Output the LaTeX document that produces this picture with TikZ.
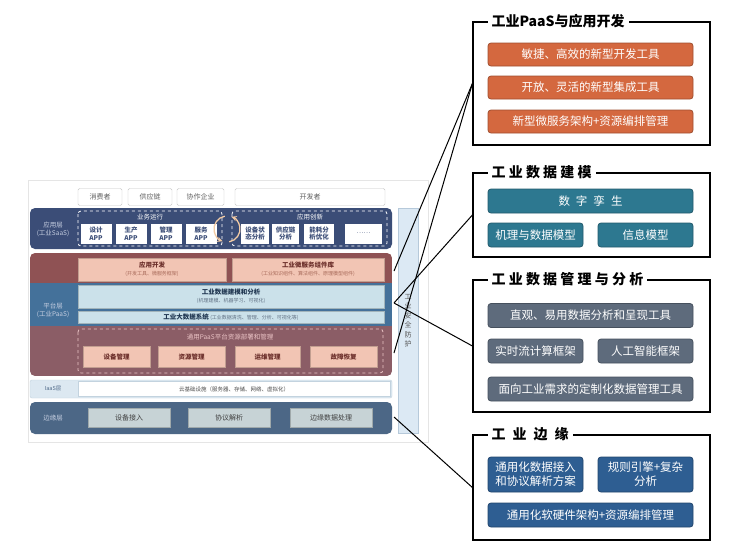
\documentclass[tikz,border=0pt]{standalone}
\usepackage{fontspec}
\setmainfont{Noto Sans CJK SC}
\usetikzlibrary{positioning}
\definecolor{appnavy}{HTML}{3B4D77}
\definecolor{applabel}{HTML}{C8D0E2}
\definecolor{paasred}{HTML}{8F5254}
\definecolor{paasblue}{HTML}{44719A}
\definecolor{paasmauve}{HTML}{8B5D66}
\definecolor{salmon}{HTML}{F2C5B4}
\definecolor{saltext}{HTML}{6B2E2A}
\definecolor{salsub}{HTML}{A86A5A}
\definecolor{lightblue}{HTML}{CBE1EA}
\definecolor{lbtext}{HTML}{1F3550}
\definecolor{dashpink}{HTML}{EBC4C6}
\definecolor{iaasbg}{HTML}{DCE8F1}
\definecolor{iaasline}{HTML}{C3D3DF}
\definecolor{edgeblue}{HTML}{4C6786}
\definecolor{edgegray}{HTML}{C7D3D6}
\definecolor{secblue}{HTML}{DCE9F4}
\definecolor{secline}{HTML}{B6C9DA}
\definecolor{cyccolor}{HTML}{F3CBA5}
\definecolor{orangebox}{HTML}{D4683F}
\definecolor{tealbox}{HTML}{2D7890}
\definecolor{slatebox}{HTML}{5E6B7C}
\definecolor{edgebox}{HTML}{2E5E92}
\newcommand{\subtxt}[1]{{\fontsize{5}{6}\selectfont\mdseries #1}}
\tikzset{
    panel/.style={draw=gray!20, fill=white},
    topbox/.style={draw=gray!45, fill=white, rounded corners=1.5pt, text=gray!75!black, font=\fontsize{7}{8}\selectfont, minimum height=17pt, inner sep=0pt},
    laylabel/.style={align=center, font=\fontsize{6.5}{8}\selectfont},
    dashbox/.style={draw=white, dashed, line width=0.8pt, rounded corners=3pt},
    grptitle/.style={text=white, font=\fontsize{6.5}{7}\selectfont},
    appbox/.style={fill=white, text=appnavy, align=center, font=\fontsize{6.5}{7.5}\selectfont\bfseries, minimum height=20pt, inner sep=0pt},
    salbox/.style={draw=salmon!80!black, fill=salmon, text=saltext, align=center, inner sep=0pt, font=\fontsize{6.5}{8}\selectfont\bfseries},
    lbbox/.style={draw=lightblue!80!black, fill=lightblue, text=lbtext, align=center, inner sep=0pt, font=\fontsize{6.5}{8}\selectfont\bfseries},
    greybox/.style={draw=edgegray!80!black, fill=edgegray, text=black!75, inner sep=0pt, minimum width=82pt, minimum height=19pt, font=\fontsize{7}{8}\selectfont},
    cycarrow/.style={draw=cyccolor, line width=1.3pt, -stealth},
    topicframe/.style={draw=black, line width=1.2pt, minimum width=237pt, inner sep=0pt},
    frametitle/.style={fill=white, inner xsep=4pt, inner ysep=1pt, font=\fontsize{14}{16}\selectfont\bfseries},
    rbox/.style={rounded corners=3pt, line width=0.8pt, text=white, align=center, inner sep=0pt, font=\fontsize{11.5}{14}\selectfont},
    orbox/.style={rbox, fill=orangebox, draw=orangebox!75!black, minimum width=205pt, minimum height=23pt},
    tlbox/.style={rbox, fill=tealbox, draw=tealbox!75!black, minimum height=24pt},
    slbox/.style={rbox, fill=slatebox, draw=slatebox!75!black, minimum height=24pt},
    egbox/.style={rbox, fill=edgebox, draw=edgebox!75!black},
    link/.style={line width=1pt, black},
}

\begin{document}
\begin{tikzpicture}[x=1pt,y=-1pt]
    \useasboundingbox (0,0) rectangle (740,554);
    \draw[panel] (28,180) rectangle (428,442);

    \node[topbox, minimum width=44pt] (consumer) at (100,197) {消费者};
    \node[topbox, minimum width=44pt] (supply) at (150,197) {供应链};
    \node[topbox, minimum width=47pt] (partner) at (200.5,197) {协作企业};
    \node[topbox, minimum width=150pt] (developer) at (310,197) {开发者};

    \fill[appnavy, rounded corners=5pt] (30,208) rectangle (392,249);
    \node[laylabel, text=applabel] (applayer) at (53,229) {应用层\\(工业SaaS)};
    \draw[dashbox] (78,211) rectangle (222,246);
    \node[grptitle] (runtitle) at (150,217) {业务运行};
    \node[appbox, minimum width=31pt] (design) at (96,233.5) {设计\\APP};
    \node[appbox, minimum width=31pt] (produce) at (131,233.5) {生产\\APP};
    \node[appbox, minimum width=31pt] (manage) at (166,233.5) {管理\\APP};
    \node[appbox, minimum width=31pt] (service) at (201,233.5) {服务\\APP};
    \draw[dashbox] (232,211) rectangle (387,246);
    \node[grptitle] (innotitle) at (310,217) {应用创新};
    \node[appbox, minimum width=28pt] (status) at (255,233.5) {设备状\\态分析};
    \node[appbox, minimum width=27pt] (chain) at (285.5,233.5) {供应链\\分析};
    \node[appbox, minimum width=30pt] (energy) at (319,233.5) {能耗分\\析优化};
    \node[appbox, minimum width=37pt, font=\fontsize{6.5}{7.5}\selectfont] (more) at (363.5,233.5) {……};
    \coordinate (cyc) at (227,229);
    \draw[cycarrow] ([shift={(100:13pt)}]cyc) arc[start angle=100, end angle=250, radius=13pt];
    \draw[cycarrow] ([shift={(280:13pt)}]cyc) arc[start angle=280, end angle=430, radius=13pt];

    \begin{scope}
        \clip[rounded corners=5pt] (30,253) rectangle (392,376);
        \fill[paasred] (30,253) rectangle (392,283);
        \fill[paasblue] (30,283) rectangle (392,326);
        \fill[paasmauve] (30,326) rectangle (392,376);
    \end{scope}
    \node[laylabel, text=applabel] (paaslayer) at (53,310) {平台层\\(工业PaaS)};
    \node[salbox, minimum width=148pt, minimum height=23pt] (appdev) at (152,269.5) {应用开发\\\textcolor{salsub}{\subtxt{(开发工具、微服务框架)}}};
    \node[salbox, minimum width=152pt, minimum height=23pt] (micro) at (308,269.5) {工业微服务组件库\\\textcolor{salsub}{\subtxt{(工业知识组件、算法组件、原理模型组件)}}};
    \node[lbbox, minimum width=306pt, minimum height=23pt] (model) at (231,296.5) {工业数据建模和分析\\\textcolor{lbtext!70}{\subtxt{(机理建模、机器学习、可视化)}}};
    \node[lbbox, minimum width=306pt, minimum height=12pt] (bigdata) at (231,317) {工业大数据系统\ \textcolor{lbtext!70}{\subtxt{(工业数据清洗、管理、分析、可视化等)}}};
    \draw[dashbox, draw=dashpink] (78,329) rectangle (383,373);
    \node[grptitle, text=dashpink] (restitle) at (230,337) {通用PaaS平台资源部署和管理};
    \node[salbox, minimum width=67pt, minimum height=21pt] (devmgr) at (116.5,357) {设备管理};
    \node[salbox, minimum width=67pt, minimum height=21pt] (resmgr) at (191.5,357) {资源管理};
    \node[salbox, minimum width=65pt, minimum height=21pt] (opsmgr) at (267.5,357) {运维管理};
    \node[salbox, minimum width=67pt, minimum height=21pt] (recover) at (343.5,357) {故障恢复};

    \draw[draw=iaasline, fill=iaasbg, rounded corners=2pt] (30,380) rectangle (392,398);
    \node[text=edgeblue, font=\fontsize{5.5}{6}\selectfont] (iaaslayer) at (53,389) {IaaS层};
    \node[draw=iaasline, fill=white, minimum width=312pt, minimum height=15pt, inner sep=0pt, text=black!70, font=\fontsize{5.5}{6}\selectfont] (iaas) at (234,389) {云基础设施（服务器、存储、网络、虚拟化）};

    \fill[edgeblue, rounded corners=5pt] (30,402) rectangle (392,434);
    \node[laylabel, text=applabel] (edgelayer) at (53,418) {边缘层};
    \node[greybox] (access) at (129,417.5) {设备接入};
    \node[greybox] (protocol) at (229,417.5) {协议解析};
    \node[greybox] (edgeproc) at (331,417.5) {边缘数据处理};

    \node[draw=secline, fill=secblue, minimum width=20pt, minimum height=225pt, inner sep=0pt, align=center, text=black!65, font=\fontsize{7}{9.5}\selectfont] (security) at (408,320.5) {工\\业\\安\\全\\防\\护};

    \node[topicframe, minimum height=123pt] (paas) at (591.5,83.5) {};
    \node[frametitle, right=15pt of paas.north west] (paastitle) {工业PaaS与应用开发};
    \node[orbox] (agile) at (590.5,54.5) {敏捷、高效的新型开发工具};
    \node[orbox] (open) at (590.5,87.5) {开放、灵活的新型集成工具};
    \node[orbox] (micsvc) at (590.5,121.5) {新型微服务架构+资源编排管理};

    \node[topicframe, minimum height=84pt] (modeling) at (591.5,215) {};
    \node[frametitle, right=15pt of modeling.north west] (modeltitle) {工 业 数 据 建 模};
    \node[tlbox, minimum width=205pt] (twin) at (590.5,201) {数\hspace{6pt}字\hspace{6pt}孪\hspace{6pt}生};
    \node[tlbox, minimum width=95pt] (mechmodel) at (535.5,235) {机理与数据模型};
    \node[tlbox, minimum width=95pt] (infomodel) at (645.5,235) {信息模型};

    \node[topicframe, minimum height=132pt] (analysis) at (591.5,346) {};
    \node[frametitle, right=15pt of analysis.north west] (anatitle) {工 业 数 据 管 理 与 分 析};
    \node[slbox, minimum width=205pt] (visual) at (590.5,315.5) {直观、易用数据分析和呈现工具};
    \node[slbox, minimum width=95pt] (stream) at (535.5,351) {实时流计算框架};
    \node[slbox, minimum width=95pt] (ai) at (645.5,351) {人工智能框架};
    \node[slbox, minimum width=205pt] (custom) at (590.5,389) {面向工业需求的定制化数据管理工具};

    \node[topicframe, minimum height=105pt] (edge) at (591.5,487.5) {};
    \node[frametitle, right=15pt of edge.north west] (edgetitle) {工\hspace{7pt}业\hspace{7pt}边\hspace{7pt}缘};
    \node[egbox, minimum width=95pt, minimum height=35pt] (dataacc) at (535.5,474.5) {通用化数据接入\\和协议解析方案};
    \node[egbox, minimum width=95pt, minimum height=35pt] (rules) at (645.5,474.5) {规则引擎+复杂\\分析};
    \node[egbox, minimum width=205pt, minimum height=24pt] (hwsw) at (590.5,515) {通用化软硬件架构+资源编排管理};

    \coordinate (paastop) at (394,271);
    \coordinate (paasbot) at (394,353);
    \coordinate (paasmid) at (394,303);
    \coordinate (edgeout) at (394,417);
    \draw[link] (paastop) -- (paas.west);
    \draw[link] (paasbot) -- (paas.west);
    \draw[link] (paasmid) -- (modeling.west);
    \draw[link] (paasmid) -- (analysis.west);
    \draw[link] (edgeout) -- (edge.west);
\end{tikzpicture}
\end{document}
